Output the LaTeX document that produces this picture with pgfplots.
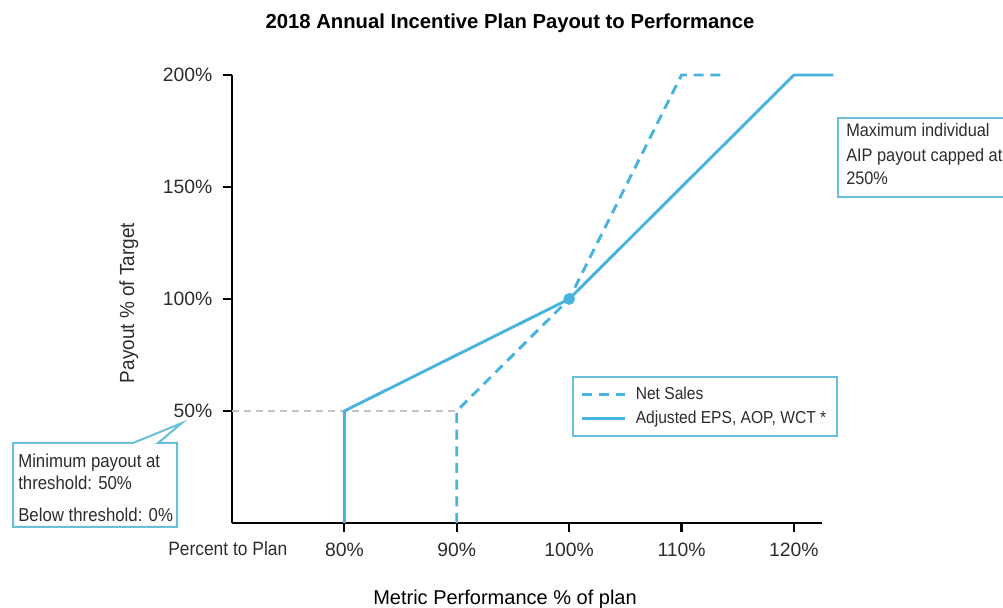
\documentclass[border=0pt]{standalone}
\usepackage{fontspec}
\setmainfont{Liberation Sans}
\newfontfamily\narrow[FakeStretch=0.9]{Liberation Sans}
\newfontfamily\ynarrow[FakeStretch=0.93]{Liberation Sans}
\usepackage{pgfplots}
\pgfplotsset{compat=1.18}
\definecolor{lblue}{RGB}{72,180,222}
\definecolor{cbord}{RGB}{105,190,216}
\definecolor{dgray}{RGB}{195,195,195}
\definecolor{tgray}{RGB}{45,45,45}
\begin{document}
\begin{tikzpicture}[x=0.75pt,y=0.75pt]
\useasboundingbox (0,0) rectangle (1003,607);
\clip (0,0) rectangle (1003,607);
\begin{axis}[
  at={(174pt,63pt)}, anchor=south west,
  scale only axis, width=442.5pt, height=336pt,
  xmin=70, xmax=122.5, ymin=0, ymax=200,
  axis x line=bottom, axis y line=left,
  axis line style={line width=2pt,-,black},
  xtick={80,90,100,110,120}, ytick={50,100,150,200},
  xticklabels={80\%,90\%,100\%,110\%,120\%},
  yticklabels={50\%,100\%,150\%,200\%},
  tick align=outside,
  tick style={black,line width=1.6pt},
  major tick length=7pt,
  ticklabel style={font=\fontsize{14.5}{17}\selectfont, text=tgray},
  xticklabel style={yshift=-4.25pt},
  yticklabel style={xshift=-4.25pt},
  clip=false,
  title={2018 Annual Incentive Plan Payout to Performance},
  title style={at={(0.4712,1.085)}, anchor=base, font=\bfseries\fontsize{15.2}{18}\selectfont},
  xlabel={Metric Performance \% of plan},
  xlabel style={at={(0.4627,-0.1808)}, anchor=base, font=\fontsize{15}{18}\selectfont},
  ylabel={Payout \% of Target},
  ylabel style={at={(-0.166,0.491)}, anchor=base, rotate=0, font=\ynarrow\fontsize{15.3}{18}\selectfont, text=tgray},
  legend style={at={(0.576,0.328)}, anchor=north west, draw=cbord, line width=1.5pt,
     font=\narrow\fontsize{13}{16}\selectfont, text=tgray, inner xsep=6pt, inner ysep=5.5pt,
     row sep=3pt, cells={anchor=west}},
  legend image code/.code={\draw[#1] (0pt,0pt) -- (32pt,0pt); \path (37pt,0pt);},
]
\addplot[dgray, line width=1.5pt, dash pattern=on 5pt off 4pt, forget plot] coordinates {(70,50) (90,50)};
\addplot[lblue, line width=2.2pt, dash pattern=on 7.5pt off 5pt] coordinates {(90,0) (90,50) (100,100) (110,200) (114.0,200)};
\addlegendentry{Net Sales}
\addplot[lblue, line width=2.2pt] coordinates {(80,0) (80,50) (100,100) (120,200) (123.5,200)};
\addlegendentry{Adjusted EPS, AOP, WCT *}
\addplot[only marks, mark=*, mark size=4.2pt, lblue, forget plot] coordinates {(100,100)};
\end{axis}
% x-axis row label
\node[anchor=base west, font=\narrow\fontsize{14.5}{17}\selectfont, text=tgray, inner sep=0pt] at (168,51) {Percent to Plan};
% left callout
\draw[cbord, line width=1.5pt, fill=white] (13,164) -- (133,164) -- (182,184) -- (158,164) -- (177,164) -- (177,80) -- (13,80) -- cycle;
\begin{scope}[every node/.style={anchor=base west, inner sep=0pt, font=\narrow\fontsize{14}{17}\selectfont, text=tgray}]
\node at (18,139) {Minimum payout at};
\node at (18,117) {threshold: 50\%};
\node at (18,85) {Below threshold: 0\%};
\end{scope}
% right callout
\draw[cbord, line width=1.5pt, fill=white] (838,489) rectangle (1012,410);
\begin{scope}[every node/.style={anchor=base west, inner sep=0pt, font=\narrow\fontsize{13.6}{17}\selectfont, text=tgray}]
\node at (846,470) {Maximum individual};
\node at (846,445) {AIP payout capped at};
\node at (846,422) {250\%};
\end{scope}
\end{tikzpicture}
\end{document}
